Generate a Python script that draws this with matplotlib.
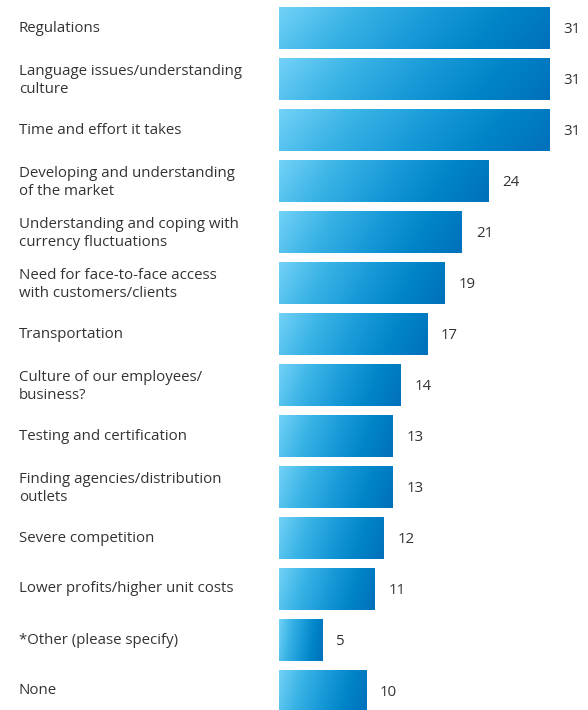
import numpy as np
import matplotlib.pyplot as plt
from matplotlib.colors import LinearSegmentedColormap
from matplotlib.transforms import blended_transform_factory

categories = [
    'Regulations',
    'Language issues/understanding\nculture',
    'Time and effort it takes',
    'Developing and understanding\nof the market',
    'Understanding and coping with\ncurrency fluctuations',
    'Need for face-to-face access\nwith customers/clients',
    'Transportation',
    'Culture of our employees/\nbusiness?',
    'Testing and certification',
    'Finding agencies/distribution\noutlets',
    'Severe competition',
    'Lower profits/higher unit costs',
    '*Other (please specify)',
    'None',
]
values = [31, 31, 31, 24, 21, 19, 17, 14, 13, 13, 12, 11, 5, 10]

plt.rcParams['font.family'] = ['Open Sans', 'DejaVu Sans']

W, H = 588, 710
fig = plt.figure(figsize=(W / 100, H / 100), dpi=100)
x0 = 279
ax = fig.add_axes([x0 / W, 0, 1 - x0 / W, 1])
px_per_unit = 8.71
pitch = 51.0
top = -28 / pitch
ax.axis('off')

cmap = LinearSegmentedColormap.from_list(
    'blues', ['#72d1f7', '#3bb4e6', '#1a9bd9', '#0085c8', '#0070ba'])

# diagonal gradient, light at top-left, dark at bottom-right
gx, gy = np.meshgrid(np.linspace(0, 1, 200), np.linspace(0, 1, 20))
grad = 0.88 * gx + 0.12 * gy

bar_h = 42 / pitch
for i, v in enumerate(values):
    ax.imshow(grad, cmap=cmap, aspect='auto', interpolation='bilinear',
              extent=[0, v, i + bar_h / 2, i - bar_h / 2], zorder=2)
    ax.text(v + 1.6, i + 0.02, str(v), ha='left', va='center',
            fontsize=10.8, color='#333333')

trans = blended_transform_factory(fig.transFigure, ax.transData)
for i, lab in enumerate(categories):
    # two-line labels sit a touch lower
    dy = 0.035 if '\n' in lab else 0.0
    ax.text(19 / W, i + dy, lab, transform=trans, ha='left', va='center',
            fontsize=10.8, color='#333333', linespacing=1.28)

ax.set_xlim(0, (W - x0) / px_per_unit)
ax.set_ylim(top + H / pitch, top)

fig.savefig('out.png', dpi=100)
